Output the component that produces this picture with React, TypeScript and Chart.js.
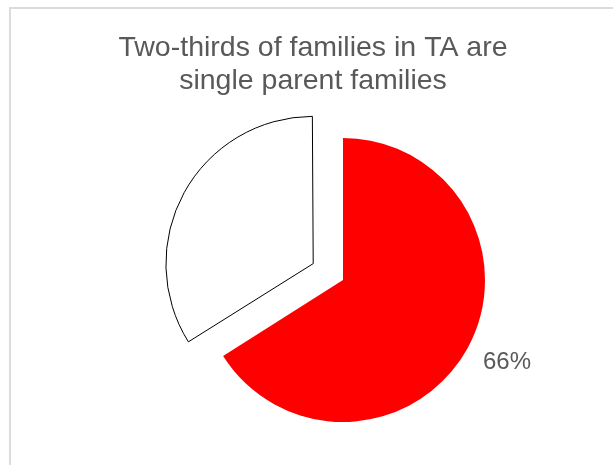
import React, { useEffect, useRef } from "react";
import { Chart, registerables } from "chart.js";

Chart.register(...registerables);

const titleLines: string[] = ["Two-thirds of families in TA are", "single parent families"];
const categories: string[] = ["Single parent families", "Other families"];
const values: number[] = [66, 34];
const sliceColors: string[] = ["#FF0000", "#FFFFFF"];
const sliceBorders: string[] = ["#FF0000", "#000000"];
const sliceBorderWidths: number[] = [0, 1];
const sliceOffsets: number[] = [0, 136];
const labelSlices: number[] = [0];

const FONT = '"Liberation Sans", Arial, sans-serif';
const TEXT = "#595959";

const overlayPlugin = {
  id: "overlayText",
  afterDraw(chart: any) {
    const ctx = chart.ctx as CanvasRenderingContext2D;
    ctx.save();
    ctx.fillStyle = TEXT;
    ctx.font = `28.5px ${FONT}`;
    ctx.textAlign = "center";
    ctx.textBaseline = "alphabetic";
    ctx.fillText(titleLines[0], 313, 56);
    ctx.fillText(titleLines[1], 313, 89);

    const meta = chart.getDatasetMeta(0);
    const total = values.reduce((a, b) => a + b, 0);
    labelSlices.forEach((i) => {
      const arc = meta.data[i];
      const { x, y, startAngle, endAngle, outerRadius } = arc.getProps(
        ["x", "y", "startAngle", "endAngle", "outerRadius"],
        true
      );
      const mid = (startAngle + endAngle) / 2;
      const r = outerRadius + 12;
      const px = x + Math.cos(mid) * r;
      const py = y + Math.sin(mid) * r;
      ctx.font = `24px ${FONT}`;
      ctx.textAlign = "left";
      ctx.textBaseline = "middle";
      ctx.fillText(Math.round((values[i] / total) * 100) + "%", px + 5, py + 8);
    });
    ctx.restore();
  },
};

export default function App() {
  const ref = useRef<HTMLCanvasElement | null>(null);

  useEffect(() => {
    if (!ref.current) return;
    const chart = new Chart(ref.current, {
      type: "pie",
      data: {
        labels: categories,
        datasets: [
          {
            data: values,
            backgroundColor: sliceColors,
            borderColor: sliceBorders,
            borderWidth: sliceBorderWidths,
            offset: sliceOffsets,
            borderJoinStyle: "miter",
          } as any,
        ],
      },
      options: {
        responsive: false,
        animation: false,
        devicePixelRatio: 1,
        radius: 142,
        layout: { padding: { left: 150, right: 77, top: 127, bottom: 32 } },
        plugins: {
          legend: { display: false },
          title: { display: false },
          tooltip: { enabled: false },
        },
      } as any,
      plugins: [overlayPlugin],
    });
    return () => chart.destroy();
  }, []);

  return (
    <div
      style={{
        position: "fixed",
        left: 0,
        top: 0,
        width: 613,
        height: 465,
        overflow: "hidden",
        background: "#ffffff",
      }}
    >
      <div
        style={{
          position: "absolute",
          left: 9,
          top: 7,
          width: 700,
          height: 600,
          border: "2px solid #dcdcdc",
          boxSizing: "border-box",
        }}
      />
      <canvas
        ref={ref}
        width={613}
        height={465}
        style={{ position: "absolute", left: 0, top: 0, width: 613, height: 465 }}
      />
    </div>
  );
}
